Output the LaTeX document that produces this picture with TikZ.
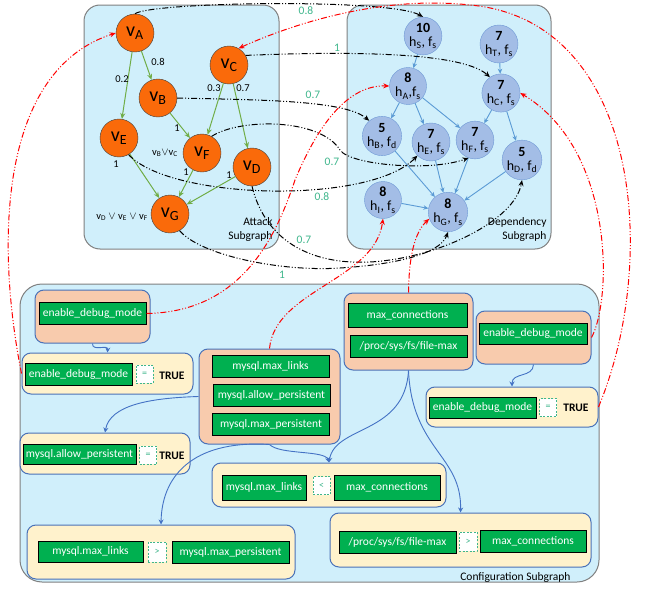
\documentclass[tikz,border=0pt]{standalone}
\usepackage{fontspec}
\setmainfont{Carlito}
\usetikzlibrary{arrows.meta}

\definecolor{Attack}{HTML}{FA6A0A}
\definecolor{AttackEdge}{HTML}{70AD47}
\definecolor{Dep}{HTML}{A3BDE6}
\definecolor{DepLine}{HTML}{6E98D5}
\definecolor{DepEdge}{HTML}{5B9BD5}
\definecolor{Sub}{HTML}{D0EFFB}
\definecolor{Peach}{HTML}{F8CBAD}
\definecolor{Cream}{HTML}{FFF2CC}
\definecolor{BoxLine}{HTML}{4A72B8}
\definecolor{Param}{HTML}{00B050}
\definecolor{Weight}{HTML}{3FB68C}
\definecolor{CfgEdge}{HTML}{4472C4}

\begin{document}
\begin{tikzpicture}[x=1pt, y=-1pt,
  vnode/.style={circle, draw=black!75, fill=Attack, minimum size=38pt, inner sep=0pt, font=\fontsize{20}{20}\selectfont},
  hnode/.style={circle, draw=DepLine, fill=Dep, minimum size=37pt, inner sep=0pt, align=center, font=\fontsize{14}{14.5}\selectfont},
  vedge/.style={-{Stealth[length=6pt, width=5pt]}, color=AttackEdge, line width=1},
  hedge/.style={-{Stealth[length=5pt, width=4.5pt]}, color=DepEdge, line width=0.9},
  mapping/.style={-{Stealth[length=6pt, width=5pt]}, line width=1, dash pattern=on 6pt off 2pt on 1pt off 2pt on 1pt off 2pt},
  cfgmap/.style={mapping, color=red},
  cfgedge/.style={-{Stealth[length=5pt, width=5pt]}, color=CfgEdge, line width=0.9},
  subgraph/.style={fill=Sub, draw=black!50, line width=1, rounded corners=16pt},
  peach/.style={rectangle, rounded corners=9pt, fill=Peach, draw=BoxLine, line width=1},
  cream/.style={rectangle, rounded corners=9pt, fill=Cream, draw=BoxLine, line width=1},
  param/.style={rectangle, fill=Param, draw=black, line width=1, text=white, minimum height=22pt, inner sep=0pt, font=\fontsize{11.5}{11.5}\selectfont},
  op/.style={rectangle, fill=white, draw=Weight, dash pattern=on 2pt off 1.5pt, line width=0.8, text=Weight, minimum width=17pt, minimum height=18pt, inner sep=0pt, font=\fontsize{10}{10}\selectfont},
  truth/.style={font=\fontsize{11.5}{11.5}\selectfont\bfseries},
  weight/.style={font=\fontsize{10.5}{10.5}\selectfont},
  mweight/.style={text=Weight, font=\fontsize{11.5}{11.5}\selectfont},
  subtitle/.style={align=right, anchor=east, font=\fontsize{11.5}{14}\selectfont}
]

 %%%%%%%%%% Frame %%%%%%%%%%
 \useasboundingbox (0,0) rectangle (646,589) ;

 %%%%%%%%%% Subgraphs %%%%%%%%%%
 \draw [subgraph] (84,5) rectangle (279,249) ;
 \draw [subgraph] (347,5) rectangle (551,249) ;
 \draw [subgraph, rounded corners=22pt] (20,284) rectangle (599,582) ;
 \node [subtitle] (attackT) at (276,229) {Attack\\Subgraph} ;
 \node [subtitle] (depT) at (550,229) {Dependency\\Subgraph} ;
 \node [subtitle] (cfgT) at (574,577) {Configuration Subgraph} ;

 %%%%%%%%%% Attack nodes %%%%%%%%%%
 \node [vnode] (vA) at (135,33) {v\textsubscript{A}} ;
 \node [vnode] (vB) at (158,98) {v\textsubscript{B}} ;
 \node [vnode] (vC) at (229,65) {v\textsubscript{C}} ;
 \node [vnode] (vE) at (119,138) {v\textsubscript{E}} ;
 \node [vnode] (vF) at (202,153) {v\textsubscript{F}} ;
 \node [vnode] (vD) at (252,167) {v\textsubscript{D}} ;
 \node [vnode] (vG) at (170,214) {v\textsubscript{G}} ;

 \draw [vedge] (vA) -- (vB) ;
 \draw [vedge] (vA) -- (vE) ;
 \draw [vedge] (vC) -- (vF) ;
 \draw [vedge] (vC) -- (vD) ;
 \draw [vedge] (vB) -- (vF) ;
 \draw [vedge] (vE) -- (vG) ;
 \draw [vedge] (vF) -- (vG) ;
 \draw [vedge] (vD) -- (vG) ;

 \node [weight] (wAE) at (122,79) {0.2} ;
 \node [weight] (wAB) at (158,62) {0.8} ;
 \node [weight] (wCF) at (214,88) {0.3} ;
 \node [weight] (wCD) at (243,88) {0.7} ;
 \node [weight] (wBF) at (177,128) {1} ;
 \node [weight] (wEG) at (116,164) {1} ;
 \node [weight] (wFG) at (186,172) {1} ;
 \node [weight] (wDG) at (229,175) {1} ;
 \node [weight] (orF) at (165,153) {v\textsubscript{B}$\vee$v\textsubscript{C}} ;
 \node [weight] (orG) at (122,217) {v\textsubscript{D} $\vee$ v\textsubscript{E} $\vee$ v\textsubscript{F}} ;

 %%%%%%%%%% Dependency nodes %%%%%%%%%%
 \node [hnode] (hS) at (423,36) {\textbf{10}\\h\textsubscript{S}, f\textsubscript{s}} ;
 \node [hnode] (hT) at (499,44) {\textbf{7}\\h\textsubscript{T}, f\textsubscript{s}} ;
 \node [hnode] (hA) at (408,86) {\textbf{8}\\h\textsubscript{A},f\textsubscript{s}} ;
 \node [hnode] (hC) at (501,93) {\textbf{7}\\h\textsubscript{C}, f\textsubscript{s}} ;
 \node [hnode] (hB) at (382,136) {\textbf{5}\\h\textsubscript{B}, f\textsubscript{d}} ;
 \node [hnode] (hE) at (431,142) {\textbf{7}\\h\textsubscript{E}, f\textsubscript{s}} ;
 \node [hnode] (hF) at (475,140) {\textbf{7}\\h\textsubscript{F}, f\textsubscript{s}} ;
 \node [hnode] (hD) at (522,160) {\textbf{5}\\h\textsubscript{D}, f\textsubscript{d}} ;
 \node [hnode] (hI) at (383,200) {\textbf{8}\\h\textsubscript{I}, f\textsubscript{s}} ;
 \node [hnode] (hG) at (448,212) {\textbf{8}\\h\textsubscript{G}, f\textsubscript{s}} ;

 \draw [hedge] (hS) -- (hA) ;
 \draw [hedge] (hT) -- (hC) ;
 \draw [hedge] (hA) -- (hB) ;
 \draw [hedge] (hA) -- (hE) ;
 \draw [hedge] (hA) -- (hF) ;
 \draw [hedge] (hC) -- (hF) ;
 \draw [hedge] (hC) -- (hD) ;
 \draw [hedge] (hB) -- (hG) ;
 \draw [hedge] (hE) -- (hG) ;
 \draw [hedge] (hF) -- (hG) ;
 \draw [hedge] (hD) -- (hG) ;
 \draw [hedge] (hI) -- (hG) ;

 %%%%%%%%%% Configuration boxes %%%%%%%%%%
 \node [peach, minimum width=115pt, minimum height=53pt] (debugP) at (92.5,316.5) {} ;
 \node [param, minimum width=107pt] (debugPg) at (92.5,313.5) {enable\_debug\_mode} ;

 \node [cream, minimum width=171pt, minimum height=41pt] (debugC) at (107.5,373.5) {} ;
 \node [param, minimum width=107pt] (debugCg) at (78.5,374) {enable\_debug\_mode} ;
 \node [op] (debugCo) at (144.5,374) {=} ;
 \node [truth] (debugCt) at (172,376) {TRUE} ;

 \node [peach, minimum width=141pt, minimum height=95pt] (mysqlP) at (269.5,396.5) {} ;
 \node [param, minimum width=117pt] (linksP) at (270.5,366) {mysql.max\_links} ;
 \node [param, minimum width=117pt] (allowP) at (271.5,395) {mysql.allow\_persistent} ;
 \node [param, minimum width=117pt] (persistP) at (271,424) {mysql.max\_persistent} ;

 \node [peach, minimum width=129pt, minimum height=77pt] (connP) at (408.5,331.5) {} ;
 \node [param, minimum width=119pt, minimum height=24pt] (connPg) at (407.5,315) {max\_connections} ;
 \node [param, minimum width=117pt] (fileP) at (408.5,346) {/proc/sys/fs/file-max} ;

 \node [peach, minimum width=115pt, minimum height=53pt] (debugQ) at (533.5,337.5) {} ;
 \node [param, minimum width=108pt, minimum height=21pt] (debugQg) at (533,333.5) {enable\_debug\_mode} ;

 \node [cream, minimum width=172pt, minimum height=40pt] (debugD) at (512,407) {} ;
 \node [param, minimum width=107pt, minimum height=21pt] (debugDg) at (482.5,407.5) {enable\_debug\_mode} ;
 \node [op] (debugDo) at (548,407.5) {=} ;
 \node [truth] (debugDt) at (576,408) {TRUE} ;

 \node [cream, minimum width=170pt, minimum height=41pt] (allowC) at (105,453.5) {} ;
 \node [param, minimum width=113pt, minimum height=20pt] (allowCg) at (79.5,454) {mysql.allow\_persistent} ;
 \node [op] (allowCo) at (148,455) {=} ;
 \node [truth] (allowCt) at (172,456) {TRUE} ;

 \node [cream, minimum width=234pt, minimum height=44pt] (linksC) at (329,485) {} ;
 \node [param, minimum width=84pt, minimum height=25pt] (linksCg) at (264,487.5) {mysql.max\_links} ;
 \node [op] (linksCo) at (321.5,485.5) {<} ;
 \node [param, minimum width=106pt, minimum height=25pt] (connCg) at (387,487.5) {max\_connections} ;

 \node [cream, minimum width=268pt, minimum height=54pt] (linksD) at (161,552) {} ;
 \node [param, minimum width=105pt, minimum height=21pt] (linksDg) at (90.5,551.5) {mysql.max\_links} ;
 \node [op, minimum width=18pt, minimum height=20pt] (linksDo) at (157,552) {>} ;
 \node [param, minimum width=117pt] (persistDg) at (230.5,552) {mysql.max\_persistent} ;

 \node [cream, minimum width=261pt, minimum height=54pt] (fileC) at (460.5,540) {} ;
 \node [param, minimum width=117pt] (fileCg) at (397.5,542) {/proc/sys/fs/file-max} ;
 \node [op, minimum width=18pt, minimum height=19pt] (fileCo) at (468,541.5) {>} ;
 \node [param, minimum width=106pt] (connDg) at (533,541) {max\_connections} ;

 %%%%%%%%%% Configuration edges %%%%%%%%%%
 \draw [cfgedge] (debugP.south) .. controls (92,352) and (108,344) .. (debugC.north) ;
 \draw [cfgedge] (debugQ.south) .. controls (533,378) and (512,372) .. (debugD.north) ;
 \draw [cfgedge] (mysqlP.west) .. controls (150,398) and (110,405) .. (allowC.north) ;
 \draw [cfgedge] (mysqlP.south) .. controls (280,455) and (325,450) .. (linksC.north) ;
 \draw [cfgedge] (connP.south) .. controls (405,435) and (335,425) .. (linksC.north) ;
 \draw [cfgedge] (connP.south) .. controls (412,450) and (462,455) .. (fileC.north) ;
 \draw [cfgedge] (mysqlP.south) .. controls (200,440) and (162,470) .. (linksD.north) ;

 %%%%%%%%%% Attack -> Dependency %%%%%%%%%%
 \draw [mapping] (vA.north) .. controls (150,2) and (390,-2) .. (hS.north) ;
 \draw [mapping] (vC.30) .. controls (330,52) and (460,50) .. (hC.125) ;
 \draw [mapping] (vB.east) .. controls (260,100) and (345,100) .. (hB.130) ;
 \draw [mapping] (vF.60) .. controls (240,118) and (320,118) .. (340,150) .. controls (350,165) and (430,172) .. (hF.250) ;
 \draw [mapping] (vE.-60) .. controls (170,200) and (370,205) .. (hE.-135) ;
 \draw [mapping] (vD.south) .. controls (265,240) and (310,265) .. (370,262) .. controls (440,258) and (515,220) .. (hD.south) ;
 \draw [mapping] (vG.-60) .. controls (200,255) and (280,272) .. (340,268) .. controls (390,265) and (440,255) .. (hG.south) ;

 \node [mweight] (wAS) at (306,11) {0.8} ;
 \node [mweight] (wCC) at (337,48) {1} ;
 \node [mweight] (wBB) at (313,95) {0.7} ;
 \node [mweight] (wFF) at (332,162) {0.7} ;
 \node [mweight] (wEE) at (322,197) {0.8} ;
 \node [mweight] (wDD) at (304,240) {0.7} ;
 \node [mweight] (wGG) at (282,275) {1} ;

 %%%%%%%%%% Configuration -> graphs %%%%%%%%%%
 \draw [cfgmap] (debugPg.east) .. controls (240,312) and (275,240) .. (295,180) .. controls (320,120) and (350,85) .. (hA.west) ;
 \draw [cfgmap] (debugC.west) .. controls (-5,240) and (0,70) .. (vA.west) ;
 \draw [cfgmap] (mysqlP.north) .. controls (275,290) and (375,280) .. (hI.south) ;
 \draw [cfgmap] (connP.north) .. controls (409,255) and (415,232) .. (hG.200) ;
 \draw [cfgmap] (debugQ.east) .. controls (612,300) and (615,150) .. (hC.east) ;
 \draw [cfgmap] (debugD.east) .. controls (660,260) and (640,20) .. (470,5) .. controls (380,-5) and (290,25) .. (vC.60) ;

\end{tikzpicture}
\end{document}
